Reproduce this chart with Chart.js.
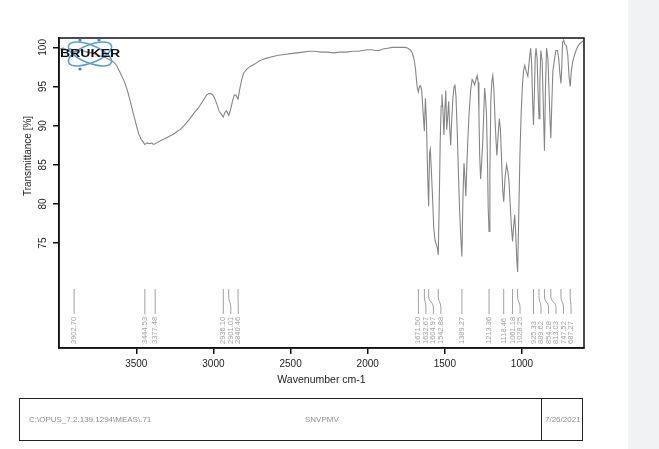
<!DOCTYPE html>
<html><head><meta charset="utf-8">
<script src="https://cdn.jsdelivr.net/npm/chart.js@4/dist/chart.umd.min.js"></script>
<style>
html,body{margin:0;padding:0;background:#fff;}
body{width:659px;height:449px;position:relative;overflow:hidden;font-family:"Liberation Sans",Arial,sans-serif;}
#side{position:absolute;left:628px;top:0;width:31px;height:449px;background:#f1f2f4;}
#c{position:absolute;left:0;top:0;}
#foot{position:absolute;left:19px;top:398px;width:564px;height:43px;border:1.5px solid #222;box-sizing:border-box;}
#div{position:absolute;left:521px;top:0;width:0;height:100%;border-left:1.5px solid #222;}
.ft{position:absolute;top:16px;font-size:8px;color:#8d8d8d;white-space:nowrap;}
</style></head>
<body>
<div id="side"></div>
<canvas id="c" width="659" height="449"></canvas>
<div id="foot">
  <div id="div"></div>
  <div class="ft" style="left:9px;">C:\OPUS_7.2.139.1294\MEAS\.71</div>
  <div class="ft" style="left:285px;">SNVPMV</div>
  <div class="ft" style="left:525px;">7/26/2021</div>
</div>
<script>
// ---- data ----
const wavenumbers = [4000,3975,3950,3925,3902.7,3880,3850,3820,3790,3760,3730,3700,3670,3645,3625,3605,3590,3573,3555,3540,3520,3500,3485,3470,3455,3444.5,3430,3415,3400,3390,3377.5,3360,3340,3320,3300,3280,3260,3240,3216,3190,3160,3130,3100,3080,3060,3045,3030,3015,3000,2988,2975,2962,2950,2936,2925,2915,2901,2890,2878,2865,2855,2840.5,2830,2818,2805,2785,2760,2730,2700,2660,2620,2580,2540,2500,2460,2420,2380,2340,2300,2260,2220,2180,2140,2100,2060,2030,2000,1975,1950,1925,1900,1870,1840,1810,1780,1755,1740,1725,1714,1705,1697,1690,1684,1678,1671.5,1665,1658,1650,1642,1632.7,1626,1619,1612,1605,1599,1594,1588,1580,1572,1563,1555,1549,1542.9,1536,1530,1524,1519,1513,1506,1500,1494,1488,1482,1475,1468,1462,1456,1448,1440,1435,1428,1420,1412,1404,1396,1389.3,1383,1376,1370,1364,1358,1351,1343,1333,1323,1315,1307,1298,1290,1284,1279,1274,1268,1261,1255,1248,1242,1236,1230,1224,1219,1213.4,1208,1202,1195,1189,1182,1173,1163,1155,1147,1140,1132,1125,1118.5,1110,1100,1092,1085,1078,1070,1061.2,1054,1047,1040,1034,1028.3,1021,1013,1005,997,990,982,972,962,953,944,937,931,925.3,919,914,909,902,896,889.6,884,878,869,861,854.3,848,841,832,824,818,813,807,800,790,780,770,762,754,747.5,742,737,730,722,712,703,695,687.3,680,671,660,648,636,624,612,600];
const transmittance = [99.8,99.9,99.7,99.8,99.4,99.7,99.6,99.4,99.3,99.1,98.9,98.7,98.4,98.1,97.6,96.8,96.2,95.4,94.3,93.2,91.6,90.1,89.0,88.3,87.9,87.6,87.8,87.7,87.8,87.6,87.7,87.9,88.1,88.3,88.5,88.7,88.9,89.2,89.5,90.0,90.7,91.5,92.2,92.8,93.4,93.9,94.1,94.1,93.8,93.3,92.6,91.8,91.5,91.1,91.7,91.9,91.3,92.0,93.0,93.9,93.9,93.4,94.6,95.8,96.7,97.2,97.6,97.9,98.3,98.6,98.8,99.0,99.1,99.2,99.3,99.4,99.5,99.5,99.4,99.4,99.3,99.4,99.4,99.5,99.5,99.6,99.7,99.7,99.6,99.6,99.8,99.9,100.0,100.0,100.0,100.0,99.9,99.7,99.4,98.9,98.2,97.2,95.8,94.8,94.3,95.0,95.1,94.5,92.0,89.3,93.5,90.5,84.0,79.7,86.5,87.0,84.5,81.0,77.0,75.3,74.8,74.4,73.5,80.5,88.0,92.5,94.0,92.3,88.8,92.0,94.5,89.5,91.0,93.1,89.5,87.5,90.5,93.5,95.0,95.3,93.8,89.5,84.0,79.0,75.5,73.3,80.5,85.2,83.5,81.0,84.5,88.2,91.5,94.5,95.9,95.6,95.2,95.9,96.4,95.5,91.5,86.0,83.2,85.5,87.6,91.5,94.8,93.5,91.3,86.0,79.5,76.5,84.0,93.3,95.7,96.4,94.6,90.0,86.2,88.6,90.9,89.6,85.5,81.8,80.3,83.3,85.0,84.2,83.1,80.5,77.5,75.2,77.2,78.6,76.0,73.0,71.3,78.5,86.5,91.8,95.2,97.0,97.7,96.9,96.3,98.3,99.9,97.8,93.0,90.1,94.5,98.8,99.9,98.6,94.5,90.9,95.5,99.6,98.2,92.0,86.8,94.5,99.9,98.6,94.0,90.5,88.4,92.6,96.9,98.4,99.6,99.6,98.6,96.6,95.4,97.5,100.6,100.9,100.4,100.2,99.0,96.3,95.0,97.0,98.2,99.0,99.7,100.2,100.5,100.7,100.9];
const peakPositions = [3902.70,3444.53,3377.48,2936.10,2901.01,2840.46,1671.50,1632.67,1604.97,1542.88,1389.27,1213.36,1118.46,1061.18,1028.25,925.33,889.62,854.28,813.03,747.52,687.27];
const peakLabels = ["3902.70","3444.53","3377.48","2936.10","2901.01","2840.46","1671.50","1632.67","1604.97","1542.88","1389.27","1213.36","1118.46","1061.18","1028.25","925.33","889.62","854.28","813.03","747.52","687.27"];
const xTickValues = [3500,3000,2500,2000,1500,1000];
const yTickValues = [75,80,85,90,95,100];

const FONT = '"Liberation Sans", Arial, sans-serif';
Chart.defaults.font.family = FONT;

const decor = {
  id: 'decor',
  afterDraw(chart) {
    const {ctx, chartArea: a, scales: {x, y}} = chart;
    ctx.save();
    // plot frame
    ctx.strokeStyle = '#111'; ctx.lineWidth = 1.5;
    ctx.strokeRect(a.left, a.top, a.right - a.left, a.bottom - a.top);
    // y tick labels (rotated)
    ctx.fillStyle = '#222';
    ctx.font = '10px ' + FONT;
    ctx.textAlign = 'center'; ctx.textBaseline = 'middle';
    yTickValues.forEach(v => {
      const py = y.getPixelForValue(v);
      ctx.save(); ctx.translate(a.left - 16, py); ctx.rotate(-Math.PI / 2);
      ctx.fillText(String(v), 0, 0); ctx.restore();
    });
    // y title
    ctx.save(); ctx.translate(28, 156); ctx.rotate(-Math.PI / 2);
    ctx.fillText('Transmittance [%]', 0, 0); ctx.restore();
    // peak labels
    const px = peakPositions.map(p => x.getPixelForValue(p));
    const order = px.map((v, i) => i).sort((i, j) => px[i] - px[j]);
    const tx = new Array(px.length);
    let last = -1e9;
    order.forEach(i => { const t = Math.max(px[i], last + 7.5); tx[i] = t; last = t; });
    const top = a.bottom - 59;
    ctx.strokeStyle = '#a0a0a0'; ctx.lineWidth = 1;
    ctx.fillStyle = '#a0a0a0';
    ctx.font = '7.5px ' + FONT;
    ctx.textAlign = 'left'; ctx.textBaseline = 'middle';
    px.forEach((p, i) => {
      const t = tx[i];
      ctx.beginPath();
      ctx.moveTo(p, top);
      ctx.lineTo(p, top + 8);
      ctx.bezierCurveTo(p, top + 13, t, top + 13, t, top + 18);
      ctx.lineTo(t, top + 25);
      ctx.stroke();
      ctx.save(); ctx.translate(t, a.bottom - 4); ctx.rotate(-Math.PI / 2);
      ctx.fillText(peakLabels[i], 0, 0); ctx.restore();
    });
    // BRUKER logo
    ctx.strokeStyle = '#5b9fd2'; ctx.lineWidth = 1.6;
    const cx = 90, cy = 54;
    [0.38, -0.38].forEach(r => {
      ctx.beginPath(); ctx.ellipse(cx, cy, 23, 9, r, 0, Math.PI * 2); ctx.stroke();
    });
    ctx.fillStyle = '#3d86c0';
    [[80, 40], [80, 69], [99, 40]].forEach(([dx, dy]) => { ctx.beginPath(); ctx.arc(dx, dy, 1.6, 0, Math.PI * 2); ctx.fill(); });
    ctx.fillStyle = '#111';
    ctx.font = 'bold 11px ' + FONT;
    ctx.textAlign = 'left'; ctx.textBaseline = 'middle';
    ctx.save(); ctx.translate(60, 54); ctx.scale(1.28, 1); ctx.fillText('BRUKER', 0, 0); ctx.restore();
    ctx.restore();
  }
};

new Chart(document.getElementById('c'), {
  type: 'line',
  data: {
    datasets: [{
      data: wavenumbers.map((w, i) => ({x: w, y: transmittance[i]})),
      borderColor: '#868686', borderWidth: 1.1, pointRadius: 0, tension: 0, fill: false
    }]
  },
  options: {
    responsive: false, animation: false,
    layout: {padding: {left: 0, top: 38, right: 75, bottom: 59}},
    plugins: {legend: {display: false}, tooltip: {enabled: false}},
    scales: {
      x: {
        type: 'linear', reverse: true, min: 598, max: 4001,
        afterBuildTicks: s => { s.ticks = xTickValues.map(v => ({value: v})); },
        afterFit: s => { s.height = 42; },
        grid: {drawOnChartArea: false, drawTicks: true, tickLength: 6, color: '#111', lineWidth: 1.5},
        border: {display: true, color: '#111', width: 1.5},
        ticks: {color: '#222', font: {size: 10}, padding: 4, maxRotation: 0, callback: v => String(v)},
        title: {display: true, text: 'Wavenumber cm-1', color: '#222', font: {size: 10.5}, padding: {top: 0, bottom: 4}}
      },
      y: {
        type: 'linear', min: 61.6, max: 101.2,
        afterBuildTicks: s => { s.ticks = yTickValues.map(v => ({value: v})); },
        afterFit: s => { s.width = 59; },
        grid: {drawOnChartArea: false, drawTicks: true, tickLength: 6, color: '#111', lineWidth: 1.5},
        border: {display: true, color: '#111', width: 1.5},
        ticks: {display: false}
      }
    }
  },
  plugins: [decor]
});
</script>
</body></html>
